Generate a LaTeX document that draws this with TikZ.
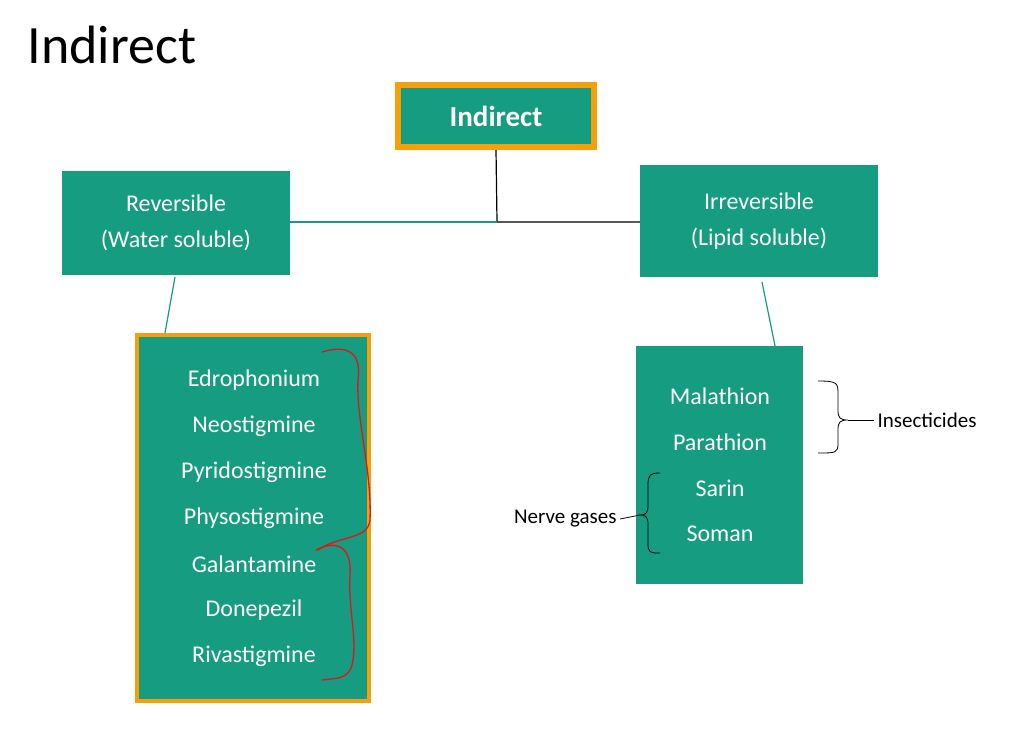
\documentclass[tikz,border=0pt]{standalone}
\usepackage{fontspec}
\setmainfont{Carlito}
\definecolor{tgreen}{RGB}{22,156,128}
\definecolor{torange}{RGB}{245,160,10}
\definecolor{tred}{RGB}{225,20,30}
\begin{document}
\begin{tikzpicture}[x=1pt,y=-1pt,
  gbox/.style={fill=tgreen,text=white,align=center,inner sep=0pt},
  item/.style={text=white,font=\fontsize{24}{28}\selectfont},
  lbl/.style={font=\fontsize{21}{24}\selectfont},
  tline/.style={draw=tgreen,line width=1.2pt}]
\useasboundingbox (0,0) rectangle (1024,737);
\fill[white] (0,0) rectangle (1024,737);
\node[anchor=west,font=\fontsize{54}{60}\selectfont] (title) at (24,45) {Indirect};
% top box
\node[gbox,draw=torange,line width=6pt,minimum width=196pt,minimum height=62pt,font=\bfseries\fontsize{29}{34}\selectfont] (top) at (496,116) {Indirect};
\node[gbox,minimum width=228pt,minimum height=104pt,font=\fontsize{24}{36}\selectfont] (rev) at (176,223) {Reversible\\(Water soluble)};
\node[gbox,minimum width=238pt,minimum height=112pt,font=\fontsize{24}{36}\selectfont] (irr) at (759,221) {Irreversible\\(Lipid soluble)};
\coordinate (j) at (497,222);
\draw[line width=1.2pt] (top.south) -- (j) -- (irr.west|-j);
\draw[tline] (j) -- (rev.east|-j);
% left list
\node[gbox,draw=torange,line width=4pt,minimum width=232pt,minimum height=366pt] (list) at (253,518) {};
\foreach \t [count=\i] in {Edrophonium,Neostigmine,Pyridostigmine,Physostigmine,Galantamine,Donepezil,Rivastigmine}
  \node[item] (l\i) at (254,334+46*\i) {\t};
\draw[tline] (175,277) -- (list.north-|165,0);
% right list
\node[gbox,minimum width=167pt,minimum height=238pt] (rl) at (719.5,465) {};
\foreach \t [count=\i] in {Malathion,Parathion,Sarin,Soman}
  \node[item] (r\i) at (720,350+46*\i) {\t};
\draw[tline] (762,282) -- (rl.north-|775,0);
% red braces
\draw[tred,line width=1.3pt,line cap=round] (322,352) .. controls (345,345) and (362,350) .. (358,380)
  .. controls (356,420) and (372,470) .. (370,520) .. controls (368,540) and (340,535) .. (318,550);
\draw[tred,line width=1.3pt,line cap=round] (316,550) .. controls (335,540) and (352,545) .. (350,575)
  .. controls (348,610) and (358,640) .. (352,665) .. controls (348,680) and (335,678) .. (322,680);
% insecticides brace
\draw[line width=0.8pt] (818,381) .. controls (838,381) and (838,383) .. (838,395) -- (838,410)
  .. controls (838,418) and (840,420) .. (848,420) .. controls (840,420) and (838,422) .. (838,430) -- (838,443)
  .. controls (838,453) and (836,453) .. (818,453);
\node[lbl,anchor=west] (ins) at (874,420) {Insecticides};
\draw[line width=0.8pt] (848,420) -- (ins.west);
% nerve gases brace
\draw[line width=0.8pt] (660,473) .. controls (650,473) and (648,475) .. (648,485) -- (648,505)
  .. controls (648,513) and (646,515) .. (640,515) .. controls (646,515) and (648,517) .. (648,525) -- (648,543)
  .. controls (648,553) and (650,553) .. (660,553);
\node[lbl,anchor=east] (ng) at (620,519) {Nerve gases};
\draw[line width=0.8pt] (ng.east) -- (640,515);
\end{tikzpicture}
\end{document}
